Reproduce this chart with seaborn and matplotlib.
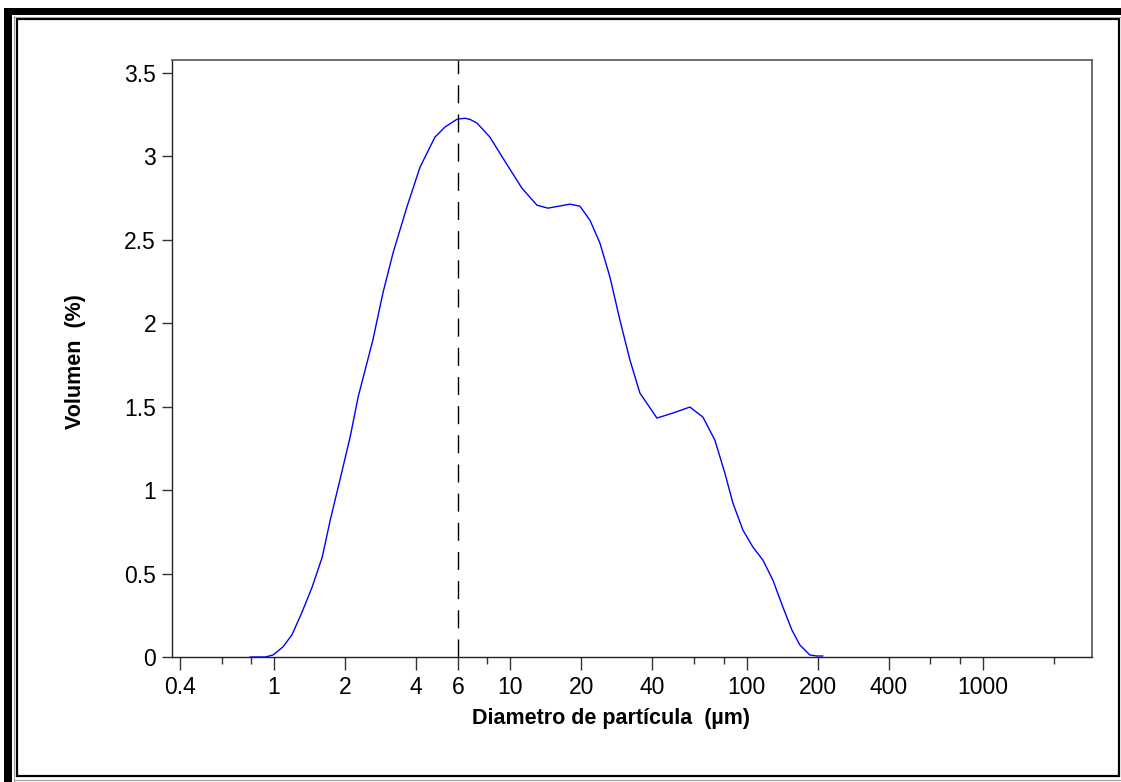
import numpy as np
import pandas as pd
import matplotlib
matplotlib.use("Agg")
import matplotlib.pyplot as plt
from matplotlib.patches import Rectangle
from matplotlib.lines import Line2D
from matplotlib.ticker import FixedLocator, FixedFormatter, NullFormatter
import seaborn as sns

# ---------------- DATA ---------------- #
diameter_um = [0.79, 0.92, 0.99, 1.09, 1.19, 1.31, 1.45, 1.60, 1.73, 1.90, 2.10,
               2.27, 2.62, 2.89, 3.19, 3.65, 4.15, 4.80, 5.29, 5.95, 6.43, 6.75, 7.23, 8.20,
               9.31, 11.2, 12.97, 14.43, 17.88, 19.71, 21.74, 23.96, 26.42, 29.12,
               32.10, 35.38, 41.76, 48.80, 57.59, 65.36, 73.47, 80.99, 87.56,
               96.51, 106.4, 117.3, 129.3, 142.5, 155.6, 168.2, 185.4, 198.6, 210.5]
volume_pct = [0.0, 0.0, 0.012, 0.060, 0.132, 0.264, 0.419, 0.599, 0.821, 1.060, 1.318,
              1.558, 1.899, 2.181, 2.421, 2.696, 2.936, 3.116, 3.176, 3.223, 3.229, 3.222, 3.200, 3.116,
              2.990, 2.810, 2.708, 2.690, 2.714, 2.702, 2.618, 2.481, 2.277, 2.019,
              1.780, 1.582, 1.432, 1.462, 1.498, 1.438, 1.300, 1.102, 0.923,
              0.761, 0.659, 0.581, 0.461, 0.300, 0.162, 0.072, 0.012, 0.006, 0.006]

mode_um = 6
x_major = [0.4, 1, 2, 4, 6, 10, 20, 40, 100, 200, 400, 1000]
x_minor = [0.6, 0.8, 8, 60, 80, 600, 800, 2000]
y_ticks = [0, 0.5, 1, 1.5, 2, 2.5, 3, 3.5]

df = pd.DataFrame({"d": diameter_um, "v": volume_pct})

# ---------------- STYLE ---------------- #
sns.set_style("white")
plt.rcParams['font.family'] = ['Liberation Sans', 'DejaVu Sans']
plt.rcParams['text.color'] = 'black'
plt.rcParams['axes.labelcolor'] = 'black'
plt.rcParams['xtick.color'] = 'black'
plt.rcParams['ytick.color'] = 'black'

W, H = 1121, 782
fig = plt.figure(figsize=(W / 100, H / 100), dpi=100)

def fx(px):
    return px / W

def fy(py):
    return 1 - py / H

# window-like frame
fig.add_artist(Rectangle((fx(4), 0), fx(12) - fx(4), fy(8),
                         transform=fig.transFigure, color="black", lw=0))
fig.add_artist(Rectangle((fx(4), fy(15)), 1 - fx(4), fy(8) - fy(15),
                         transform=fig.transFigure, color="black", lw=0))
fig.add_artist(Rectangle((fx(17), fy(776)), fx(1119) - fx(17), fy(19) - fy(776),
                         transform=fig.transFigure, fill=False, ec="black", lw=1.6))
fig.add_artist(Line2D([fx(13.5), fx(13.5)], [fy(16), 0], transform=fig.transFigure,
                      color="#a0a0a0", lw=0.8))
fig.add_artist(Line2D([fx(13.5), 1], [fy(16.5), fy(16.5)], transform=fig.transFigure,
                      color="#a0a0a0", lw=0.8))
fig.add_artist(Line2D([fx(13.5), 1], [fy(780), fy(780)], transform=fig.transFigure,
                      color="#a0a0a0", lw=0.8))

ax = fig.add_axes([fx(172), fy(657), fx(1092) - fx(172), fy(60) - fy(657)])

sns.lineplot(data=df, x="d", y="v", ax=ax, color="#0000ff", lw=1.0,
             sort=False, estimator=None)
ax.axvline(mode_um, color="black", lw=1.0, dashes=(13, 8))

ax.set_xscale("log")
ax.set_xlim(0.37, 2900)
ax.set_ylim(0, 3.578)

ax.xaxis.set_major_locator(FixedLocator(x_major))
ax.xaxis.set_major_formatter(FixedFormatter([f"{v:g}" for v in x_major]))
ax.xaxis.set_minor_locator(FixedLocator(x_minor))
ax.xaxis.set_minor_formatter(NullFormatter())
ax.set_yticks(y_ticks)
ax.set_yticklabels([f"{v:g}" for v in y_ticks])

ax.tick_params(axis="x", which="major", direction="out", length=9, width=1,
               color="#333333", labelsize=16.5, labelcolor="black", pad=5, bottom=True)
ax.tick_params(axis="x", which="minor", direction="out", length=5, width=1,
               color="#333333", bottom=True)
ax.tick_params(axis="y", which="major", direction="out", length=7.5, width=1,
               color="#333333", labelsize=16.5, labelcolor="black", pad=4, left=True)

for side in ["left", "bottom"]:
    ax.spines[side].set_color("#222222")
    ax.spines[side].set_linewidth(1.0)
for side in ["top", "right"]:
    ax.spines[side].set_color("#555555")
    ax.spines[side].set_linewidth(1.2)

ax.set_xlabel("Diametro de partícula  (µm)", fontsize=15.5, fontweight="bold", color="black")
ax.set_ylabel("Volumen  (%)", fontsize=15.5, fontweight="bold", color="black")
ax.xaxis.set_label_coords((611 - 172) / 920, -(708 - 657) / 597)
ax.yaxis.set_label_coords((86 - 172) / 920, (657 - 362) / 597)

fig.savefig("out.png", dpi=100)
